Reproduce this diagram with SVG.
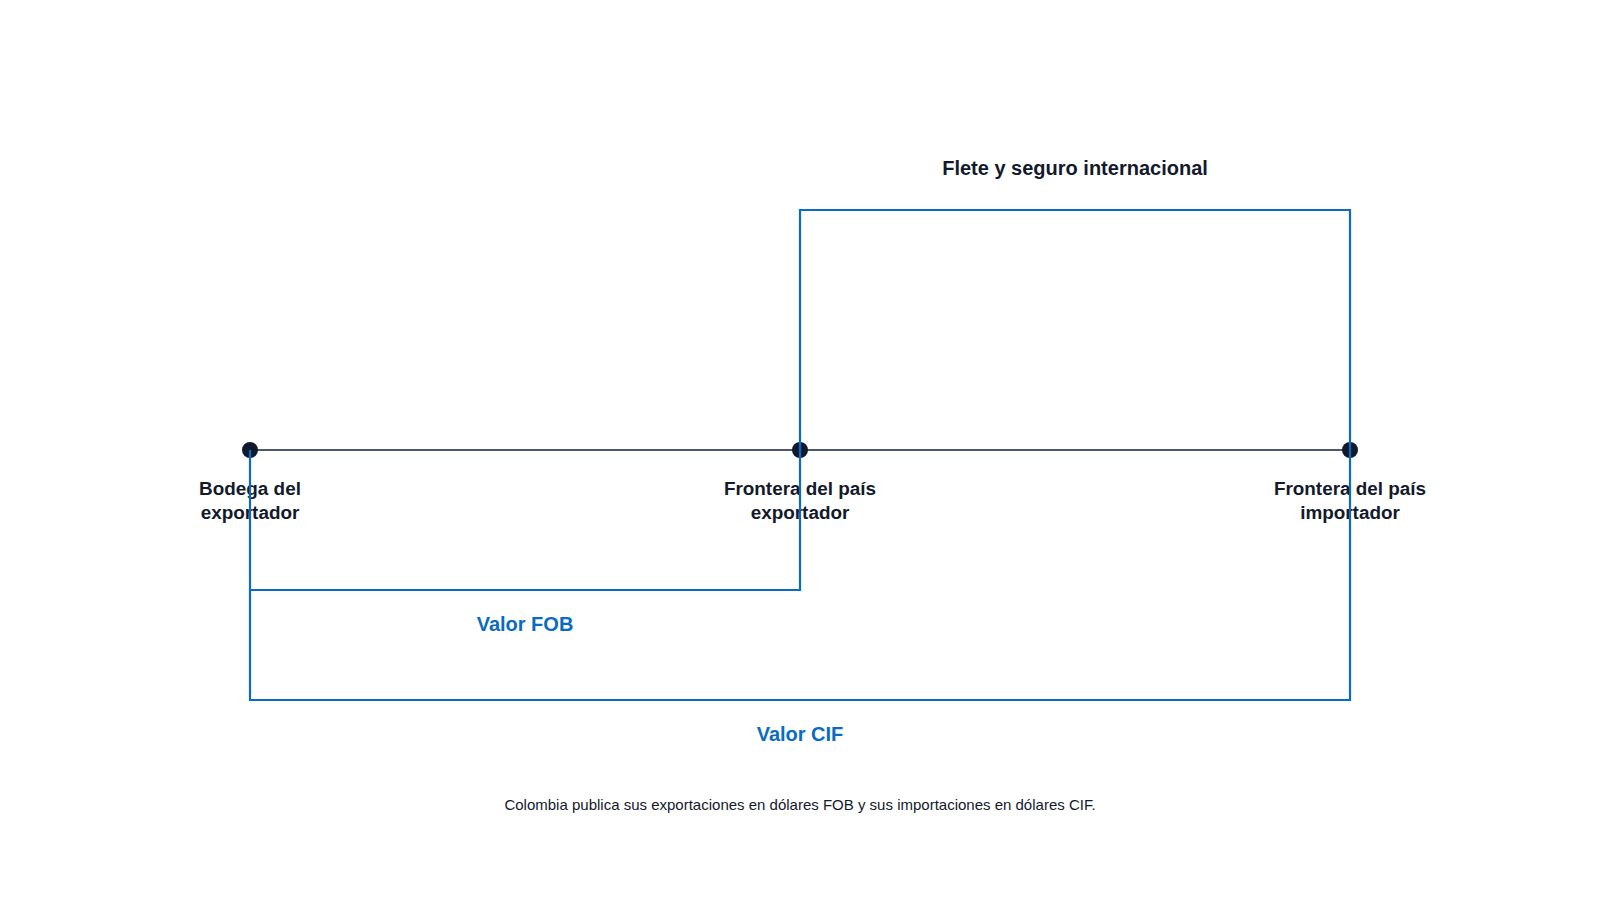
<svg xmlns="http://www.w3.org/2000/svg" width="1600" height="900" viewBox="0 0 1600 900">
<style>
.lbl{font-family:"Liberation Sans",Arial,sans-serif;font-weight:bold;font-size:18.9px;fill:#131a2b;text-anchor:middle}
.blue{font-family:"Liberation Sans",Arial,sans-serif;font-weight:bold;font-size:20px;fill:#0a6cc1;text-anchor:middle}
.note{font-family:"Liberation Sans",Arial,sans-serif;font-size:15px;fill:#131a2b;text-anchor:middle}
.br{fill:none;stroke:#0a6cc1;stroke-width:2.2}
.axis{stroke:#4f5669;stroke-width:2}
.dot{fill:#0f1a2e}
</style>
<rect width="1600" height="900" fill="#ffffff"/>
<g id="connectors">
<line class="axis" x1="250" y1="450" x2="1350" y2="450"/>
</g>
<g id="node-bodega">
<circle class="dot" cx="250" cy="450" r="8"/>
<text class="lbl" x="250" y="495">Bodega del</text>
<text class="lbl" x="250" y="519">exportador</text>
</g>
<g id="node-frontera-exp">
<circle class="dot" cx="800" cy="450" r="8"/>
<text class="lbl" x="800" y="495">Frontera del país</text>
<text class="lbl" x="800" y="519">exportador</text>
</g>
<g id="node-frontera-imp">
<circle class="dot" cx="1350" cy="450" r="8"/>
<text class="lbl" x="1350" y="495">Frontera del país</text>
<text class="lbl" x="1350" y="519">importador</text>
</g>
<g id="brackets">
<polyline class="br" points="800,450 800,210 1350,210 1350,450"/>
<polyline class="br" points="250,450 250,590 800,590 800,450"/>
<polyline class="br" points="250,590 250,700 1350,700 1350,450"/>
</g>
<g id="label-flete">
<text class="lbl" x="1075" y="175" style="font-size:20px">Flete y seguro internacional</text>
</g>
<g id="label-fob">
<text class="blue" x="525" y="631">Valor FOB</text>
</g>
<g id="label-cif">
<text class="blue" x="800" y="741">Valor CIF</text>
</g>
<g id="footnote">
<text class="note" x="800" y="810">Colombia publica sus exportaciones en dólares FOB y sus importaciones en dólares CIF.</text>
</g>
</svg>
